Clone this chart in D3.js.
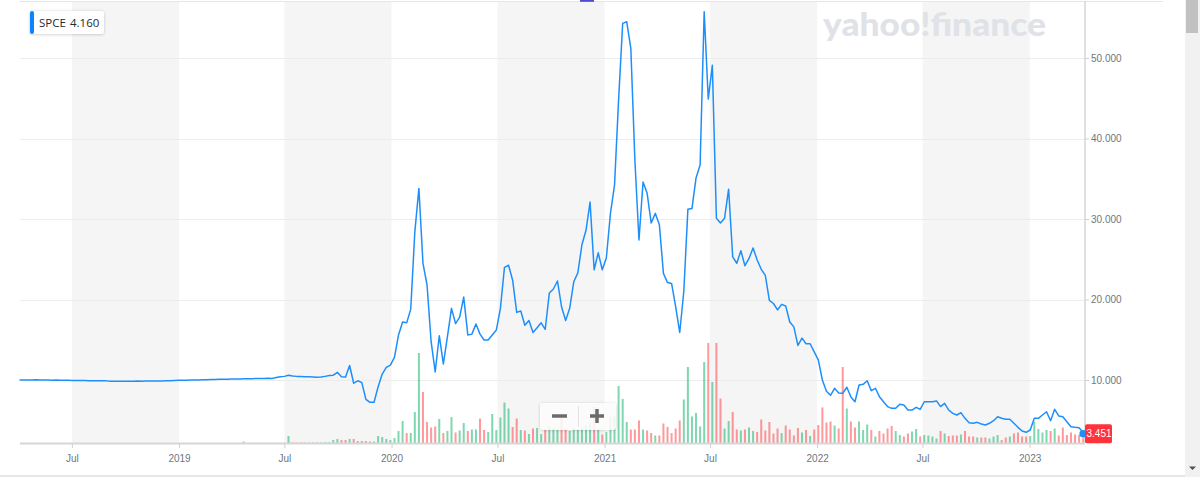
<!DOCTYPE html>
<html>
<head>
<meta charset="utf-8">
<script src="https://cdn.jsdelivr.net/npm/d3@7"></script>
<style>
  body { margin: 0; background: #fff; overflow: hidden; }
  svg { display: block; }
</style>
</head>
<body>
<svg id="chart" width="1200" height="477"></svg>
<script>
// --- data ---
const ticker = "SPCE";
const legendPrice = "4.160";
const livePrice = "3.451";
const firstWeek = "2018-04-02";

// weekly closes, one per week from firstWeek
const closes = [
  10.00, 10.01, 10.00, 9.99, 10.02, 10.01, 10.00, 9.99, 9.98, 9.99,
  9.98, 9.97, 9.96, 9.95, 9.95, 9.94, 9.93, 9.92, 9.92, 9.91,
  9.90, 9.90, 9.86, 9.84, 9.84, 9.85, 9.85, 9.86, 9.86, 9.87,
  9.86, 9.88, 9.87, 9.88, 9.89, 9.88, 9.90, 9.92, 9.94, 9.96,
  9.97, 9.98, 9.99, 10.00, 10.01, 10.03, 10.04, 10.05, 10.07, 10.08,
  10.09, 10.10, 10.12, 10.12, 10.13, 10.15, 10.16, 10.17, 10.18, 10.18,
  10.20, 10.21, 10.20, 10.30, 10.40, 10.45, 10.60, 10.50, 10.45, 10.42,
  10.40, 10.40, 10.38, 10.35, 10.36, 10.45, 10.55, 10.60, 10.96, 10.40,
  10.37, 11.80, 9.60, 9.90, 9.67, 7.60, 7.23, 7.23, 9.17, 10.74,
  11.57, 11.86, 12.80, 15.60, 17.20, 17.10, 18.80, 28.40, 33.80, 24.50,
  21.80, 14.76, 11.00, 15.50, 12.00, 15.40, 18.90, 17.00, 17.80, 20.30,
  15.60, 15.70, 16.96, 15.70, 14.97, 14.97, 15.60, 16.20, 18.90, 24.00,
  24.25, 22.40, 18.40, 18.57, 16.80, 17.40, 15.90, 16.50, 17.10, 16.30,
  20.80, 21.30, 22.30, 19.10, 17.40, 18.90, 22.20, 23.30, 26.80, 28.60,
  32.10, 23.70, 25.80, 23.70, 25.20, 30.70, 34.20, 44.80, 54.30, 54.50,
  51.20, 37.30, 27.40, 34.60, 33.20, 29.50, 30.70, 29.30, 23.25, 22.10,
  22.00, 19.10, 15.90, 21.00, 31.20, 31.30, 35.10, 36.70, 55.75, 44.90,
  49.10, 30.10, 29.50, 30.10, 33.70, 25.30, 24.50, 26.06, 24.20, 25.10,
  26.40, 24.90, 23.75, 23.00, 19.90, 19.50, 18.70, 19.40, 19.20, 17.20,
  16.60, 14.30, 15.20, 14.50, 14.50, 13.50, 12.50, 10.00, 8.60, 8.10,
  8.97, 8.40, 8.35, 9.10, 7.90, 7.30, 9.38, 9.46, 9.90, 8.67,
  8.97, 7.93, 7.30, 6.70, 6.48, 6.48, 7.00, 6.90, 6.27, 6.27,
  6.60, 6.36, 7.30, 7.30, 7.30, 7.40, 6.70, 7.10, 6.27, 5.86,
  5.65, 5.94, 5.24, 4.70, 4.62, 4.74, 4.53, 4.41, 4.62, 4.94,
  5.44, 5.24, 5.12, 5.12, 4.62, 4.12, 3.66, 3.50, 3.79, 5.24,
  5.24, 5.65, 6.06, 4.94, 6.36, 5.53, 5.44, 4.82, 4.20, 4.12,
  4.07, 3.45
];

// weekly volume, millions of shares
const volumes = [
  0, 0, 0, 0, 0, 0, 0, 0, 0, 0,
  0, 0, 0, 0, 0, 0, 0, 0, 0, 0,
  0, 0, 0, 0, 0, 0, 0, 0, 0, 0,
  0, 0, 0, 0, 0, 0, 0, 0, 0, 0,
  0, 0, 0, 0, 0, 0, 0, 0, 0, 0,
  0, 0, 0, 0, 0, 3, 0, 0.5, 0.5, 0.5,
  0.5, 0.5, 0.5, 0.5, 0.5, 0.5, 14, 1.5, 1, 1,
  1, 1, 1, 1, 1, 1.5, 1.5, 6, 8, 6,
  6, 8, 8, 4, 4, 4, 3, 3, 14, 12,
  8, 6, 10, 24, 44, 20, 20, 62, 180, 102,
  42, 31, 33, 48, 20, 24, 52, 21, 25, 40,
  24, 27, 27, 49, 26, 22, 58, 26, 51, 81,
  69, 32, 49, 26, 25, 18, 29, 30, 18, 28,
  34, 30, 28, 50, 28, 24, 30, 28, 32, 36,
  40, 72, 28, 17, 22, 52, 54, 114, 88, 42,
  27, 27, 45, 27, 25, 20, 15, 15, 39, 32,
  20, 29, 45, 87, 152, 53, 60, 33, 162, 200,
  122, 200, 89, 29, 44, 62, 27, 25, 27, 31,
  24, 22, 47, 25, 42, 19, 29, 20, 35, 27,
  15, 30, 21, 26, 14, 27, 36, 71, 41, 43,
  35, 29, 152, 69, 43, 31, 43, 26, 37, 26,
  13, 24, 19, 29, 34, 24, 16, 13, 19, 23,
  28, 13, 16, 15, 13, 9, 24, 19, 14, 15,
  15, 17, 24, 13, 13, 11, 11, 11, 9, 13,
  16, 6, 11, 13, 19, 21, 13, 13, 14, 43,
  28, 21, 26, 24, 29, 15, 31, 16, 21, 17,
  16, 10
];

const xTickDates = ["2018-07-01", "2019-01-01", "2019-07-01", "2020-01-01", "2020-07-01",
                    "2021-01-01", "2021-07-01", "2022-01-01", "2022-07-01", "2023-01-01"];
const xTickLabels = ["Jul", "2019", "Jul", "2020", "Jul", "2021", "Jul", "2022", "Jul", "2023"];
const yTicks = [10, 20, 30, 40, 50];

// --- layout ---
const plotLeft = 20, axisX = 1085, plotTop = 1, plotBottom = 443;
const svg = d3.select('#chart');
const parse = d3.timeParse('%Y-%m-%d');
const start = parse(firstWeek);

let weeks = closes.map(function(c, i) {
  return {
    date: d3.timeWeek.offset(start, i),
    close: c,
    vol: volumes[i],
    up: i === 0 || c >= closes[i - 1]
  };
});

let x = d3.scaleTime()
  .domain([weeks[0].date, weeks[weeks.length - 1].date])
  .range([19.5, 1083.2]);

let y = d3.scaleLinear()
  .domain([0, 50])
  .range([460.5, 58]);

let yVol = d3.scaleLinear()
  .domain([0, 200])
  .range([plotBottom, plotBottom - 100]);

let tickDates = xTickDates.map(parse);

let defs = svg.append('defs');
let shadow = defs.append('filter').attr('id', 'shadow')
  .attr('x', '-20%').attr('y', '-40%').attr('width', '140%').attr('height', '180%');
shadow.append('feDropShadow')
  .attr('dx', 0).attr('dy', 0.5).attr('stdDeviation', 1.4)
  .attr('flood-color', '#000').attr('flood-opacity', 0.22);

// shaded half-year bands
let bands = [];
for (let i = 0; i + 1 < tickDates.length; i += 2) {
  bands.push([tickDates[i], tickDates[i + 1]]);
}
svg.append('g')
  .selectAll('rect')
  .data(bands)
  .join('rect')
  .attr('x', d => x(d[0]))
  .attr('y', plotTop + 1)
  .attr('width', d => x(d[1]) - x(d[0]))
  .attr('height', plotBottom - plotTop - 1)
  .attr('fill', '#f5f5f5');

// top border
svg.append('line')
  .attr('x1', plotLeft).attr('x2', 1163)
  .attr('y1', 1.5).attr('y2', 1.5)
  .attr('stroke', '#e6e6e6').attr('stroke-width', 1);

// grid
svg.append('g')
  .selectAll('line')
  .data(yTicks)
  .join('line')
  .attr('x1', plotLeft).attr('x2', axisX)
  .attr('y1', d => Math.round(y(d)) + 0.5)
  .attr('y2', d => Math.round(y(d)) + 0.5)
  .attr('stroke', '#ececec');

// yahoo watermark
svg.append('text')
  .attr('x', 823).attr('y', 36)
  .attr('font-family', 'Lato, "Liberation Sans", sans-serif')
  .attr('font-weight', 900)
  .attr('font-size', 33)
  .attr('textLength', 223)
  .attr('lengthAdjust', 'spacingAndGlyphs')
  .attr('fill', '#dfe2e6')
  .text('yahoo!finance');

// volume bars
svg.append('g')
  .selectAll('rect')
  .data(weeks.filter(d => d.vol > 0))
  .join('rect')
  .attr('x', d => x(d.date) - 1)
  .attr('y', d => yVol(d.vol))
  .attr('width', 2)
  .attr('height', d => plotBottom - yVol(d.vol))
  .attr('fill', d => d.up ? '#00b061' : '#ff333a')
  .attr('fill-opacity', 0.5);

// x axis
svg.append('line')
  .attr('x1', plotLeft).attr('x2', axisX)
  .attr('y1', plotBottom + 0.5).attr('y2', plotBottom + 0.5)
  .attr('stroke', '#d6d6d6').attr('stroke-width', 2);

let xAxis = d3.axisBottom(x)
  .tickValues(tickDates)
  .tickFormat((d, i) => xTickLabels[i])
  .tickSize(4)
  .tickPadding(7);

let gx = svg.append('g')
  .attr('transform', `translate(0,${plotBottom + 1})`)
  .call(xAxis);
gx.select('.domain').remove();
gx.selectAll('line').attr('stroke', '#d0d0d0');
gx.selectAll('text')
  .attr('fill', '#6e7780')
  .attr('font-family', '"Liberation Sans", Arial, sans-serif')
  .attr('font-size', 10);

// y axis
svg.append('line')
  .attr('x1', axisX).attr('x2', axisX)
  .attr('y1', plotTop).attr('y2', plotBottom)
  .attr('stroke', '#d6d6d6').attr('stroke-width', 1.5);

let yAxis = d3.axisRight(y)
  .tickValues(yTicks)
  .tickFormat(d3.format('.3f'))
  .tickSize(4)
  .tickPadding(2);

let gy = svg.append('g')
  .attr('transform', `translate(${axisX},0)`)
  .call(yAxis);
gy.select('.domain').remove();
gy.selectAll('line').attr('stroke', '#d0d0d0');
gy.selectAll('text')
  .attr('fill', '#6e7780')
  .attr('font-family', '"Liberation Sans", Arial, sans-serif')
  .attr('font-size', 10);

// price line
let line = d3.line()
  .x(d => x(d.date))
  .y(d => y(d.close));

svg.append('path')
  .datum(weeks)
  .attr('d', line)
  .attr('fill', 'none')
  .attr('stroke', '#1e8ffa')
  .attr('stroke-width', 1.5)
  .attr('stroke-linejoin', 'round');

let last = weeks[weeks.length - 1];
svg.append('circle')
  .attr('cx', x(last.date))
  .attr('cy', y(last.close) + 1)
  .attr('r', 3.8)
  .attr('fill', '#1e8ffa');

// live price badge
let badge = svg.append('g')
  .attr('transform', `translate(${axisX},${y(last.close) + 1})`);
badge.append('rect')
  .attr('x', 0).attr('y', -9.5)
  .attr('width', 27).attr('height', 19)
  .attr('rx', 2)
  .attr('fill', '#ff333a');
badge.append('text')
  .attr('x', 14).attr('y', 0)
  .attr('dy', '0.35em')
  .attr('text-anchor', 'middle')
  .attr('fill', '#fff')
  .attr('font-family', '"Liberation Sans", Arial, sans-serif')
  .attr('font-size', 10)
  .text(livePrice);

// legend chip
let legend = svg.append('g').attr('transform', 'translate(30,11)');
legend.append('rect')
  .attr('width', 74).attr('height', 23)
  .attr('rx', 3)
  .attr('fill', '#fff')
  .attr('filter', 'url(#shadow)');
legend.append('rect')
  .attr('width', 4).attr('height', 23)
  .attr('rx', 2)
  .attr('fill', '#0a84ff');
legend.append('text')
  .attr('x', 9).attr('y', 16)
  .attr('font-family', '"Open Sans", sans-serif')
  .attr('font-size', 11.5)
  .attr('fill', '#232a31')
  .text(ticker);
legend.append('text')
  .attr('x', 40).attr('y', 16)
  .attr('font-family', '"Open Sans", sans-serif')
  .attr('font-size', 11.5)
  .attr('fill', '#232a31')
  .text(legendPrice);

// zoom buttons
let zoomBox = svg.append('g').attr('transform', 'translate(540,403)');
zoomBox.append('rect')
  .attr('width', 76).attr('height', 27)
  .attr('rx', 3)
  .attr('fill', '#fff')
  .attr('fill-opacity', 0.85)
  .attr('filter', 'url(#shadow)');
zoomBox.append('line')
  .attr('x1', 38.5).attr('x2', 38.5).attr('y1', 3).attr('y2', 24)
  .attr('stroke', '#e2e2e2');
zoomBox.append('line')
  .attr('x1', 12).attr('x2', 27).attr('y1', 13).attr('y2', 13)
  .attr('stroke', '#6b6b6b').attr('stroke-width', 3.5);
zoomBox.append('line')
  .attr('x1', 50).attr('x2', 64).attr('y1', 13).attr('y2', 13)
  .attr('stroke', '#6b6b6b').attr('stroke-width', 3.5);
zoomBox.append('line')
  .attr('x1', 57).attr('x2', 57).attr('y1', 6).attr('y2', 20)
  .attr('stroke', '#6b6b6b').attr('stroke-width', 3.5);

// page chrome: scrollbar, bottom edge, clipped tab marker
svg.append('rect')
  .attr('x', 1185).attr('y', 0).attr('width', 15).attr('height', 477)
  .attr('fill', '#f1f1f1');
svg.append('rect')
  .attr('x', 1186).attr('y', 0).attr('width', 12).attr('height', 33)
  .attr('fill', '#c1c1c1');
svg.append('path')
  .attr('d', 'M1189,466.5 L1196,466.5 L1192.5,470 Z')
  .attr('fill', '#505050');
svg.append('rect')
  .attr('x', 0).attr('y', 475).attr('width', 1185).attr('height', 2)
  .attr('fill', '#e6e6e6');
svg.append('rect')
  .attr('x', 580).attr('y', 0).attr('width', 14).attr('height', 1.8)
  .attr('fill', '#4b4bd0');
</script>
</body>
</html>
